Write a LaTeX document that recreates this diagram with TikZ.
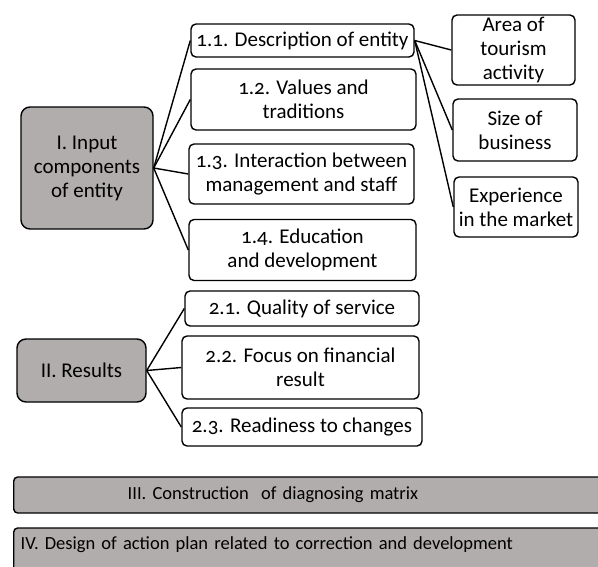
\documentclass[tikz,border=0pt]{standalone}
\usepackage{fontspec}
\setmainfont[Numbers=OldStyle]{Carlito}
\usepackage{tikz}
\definecolor{boxgray}{RGB}{176,173,172}

\begin{document}
\begin{tikzpicture}[x=1pt,y=1pt,
  every node/.style={font=\fontsize{21}{24}\selectfont,align=center,inner sep=0pt},
  box/.style={draw,line width=1.4pt,rounded corners=5pt,fill=white},
  mainbox/.style={box,fill=boxgray,rounded corners=9pt},
  bar/.style={box,fill=boxgray,rounded corners=4pt,anchor=west,align=left,font=\fontsize{18.5}{22}\selectfont}]
\useasboundingbox (0,0) rectangle (598,-566);
\clip (0,0) rectangle (598,-566);
\node[mainbox,minimum width=132pt,minimum height=122pt] (in) at (87,-168) {I. Input\\components\\of entity};
\node[box,minimum width=223pt,minimum height=33pt] (d11) at (302.5,-40.5) {1.1. Description of entity};
\node[box,minimum width=225pt,minimum height=61pt] (d12) at (303.5,-99.5) {1.2. Values and\\traditions};
\node[box,minimum width=225pt,minimum height=60pt] (d13) at (301.5,-174) {1.3. Interaction between\\management and staff};
\node[box,minimum width=227pt,minimum height=61pt] (d14) at (302.5,-250) {1.4. Education\\and development};
\node[box,minimum width=123pt,minimum height=70pt] (area) at (513.5,-50) {Area of\\tourism\\activity};
\node[box,minimum width=124pt,minimum height=62pt] (size) at (515,-130) {Size of\\business};
\node[box,minimum width=124pt,minimum height=60pt] (exp) at (516,-207) {Experience\\in the market};
\node[mainbox,minimum width=129pt,minimum height=63pt] (res) at (81.5,-370.5) {II. Results};
\node[box,minimum width=234pt,minimum height=35pt] (r21) at (302,-308.5) {2.1. Quality of service};
\node[box,minimum width=237pt,minimum height=63pt] (r22) at (300.5,-367.5) {2.2. Focus on financial\\result};
\node[box,minimum width=240pt,minimum height=38pt] (r23) at (302,-427) {2.3. Readiness to changes};
\node[bar,minimum width=628pt,minimum height=36pt,text width=400pt,inner xsep=114pt] (matrix) at (13,-495) {III. Construction\ \ of diagnosing matrix};
\node[bar,minimum width=614pt,minimum height=44pt,text width=600pt,inner xsep=7pt,text depth=14pt] (plan) at (13,-550) {IV. Design of action plan related to correction and development};
\foreach \t in {d11,d12,d13,d14} \draw[line width=1.4pt] (in.east) -- (\t.west);
\foreach \t in {area,size,exp} \draw[line width=1.4pt] (d11.east) -- (\t.west);
\foreach \t in {r21,r22,r23} \draw[line width=1.4pt] (res.east) -- (\t.west);
\end{tikzpicture}
\end{document}
